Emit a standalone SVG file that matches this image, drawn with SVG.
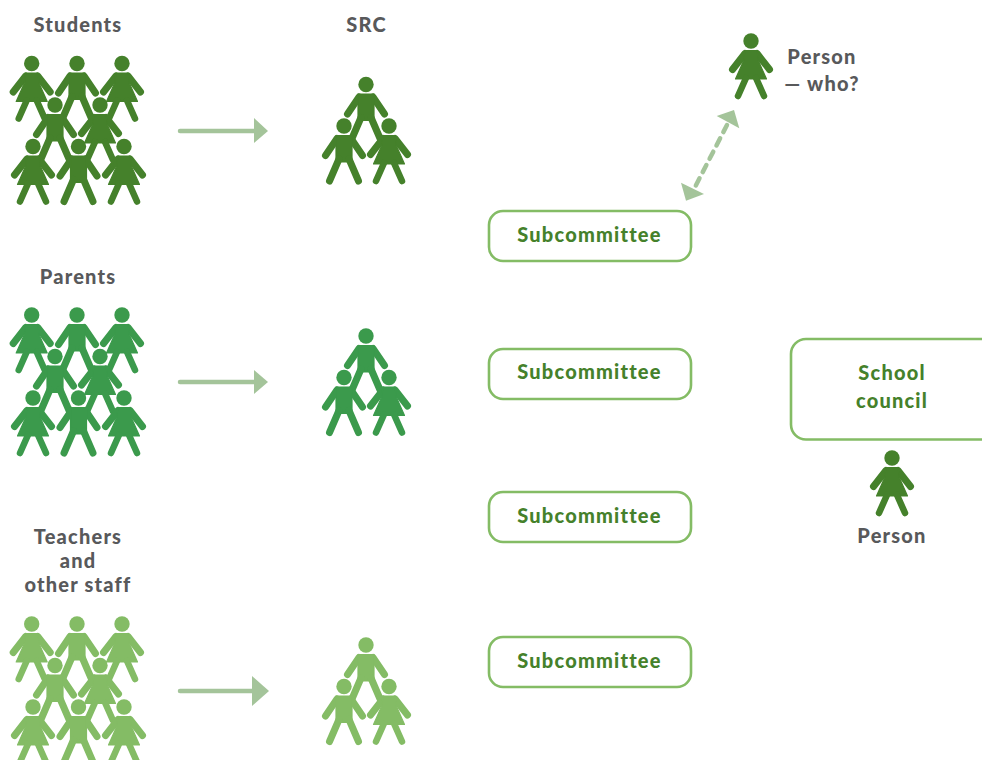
<svg xmlns="http://www.w3.org/2000/svg" xmlns:xlink="http://www.w3.org/1999/xlink" width="982" height="760" viewBox="0 0 982 760">
<style>
text{font-family:"Lato","Noto Sans",sans-serif;font-weight:900;font-size:20px;letter-spacing:1.2px;text-anchor:middle}
.g{fill:#58595b}.t{fill:#45812b}
.box{fill:#fff;stroke:#84bc65;stroke-width:2.6}
.dk{color:#45812b}.md{color:#3b9a4c}.lt{color:#84bc65}
.ar{stroke:#a4c49a;stroke-width:4.5;stroke-linecap:round;fill:none}
.ah{fill:#a4c49a}
</style>
<defs>
<g id="woman" fill="currentColor" stroke="currentColor" stroke-linecap="round" stroke-linejoin="round">
<circle cx="0" cy="0" r="7.7" stroke="none"/>
<path d="M-6 12.500L-18.500 28.500M6 12.500L18.500 28.500" stroke-width="7" fill="none"/>
<path d="M-6 9.500H6L7.500 20L15.500 38H-15.500L-7.500 20Z" stroke-width="1.200"/>
<path d="M-5 37L-13 55M5 37L13 55" stroke-width="6.500" fill="none"/>
</g>
<g id="man" fill="currentColor" stroke="currentColor" stroke-linecap="round" stroke-linejoin="round">
<circle cx="0" cy="0" r="7.7" stroke="none"/>
<path d="M-7 12.500L-18.500 29.500M7 12.500L18.500 29.500" stroke-width="7" fill="none"/>
<path d="M-8 9.500H8V36H-8Z" stroke-width="1.200"/>
<path d="M-5 33L-14.500 55M5 33L14.500 55" stroke-width="7" fill="none"/>
</g>
<g id="crowd">
<use xlink:href="#woman" href="#woman" x="31.7" y="63.5"/>
<use xlink:href="#man" href="#man" x="77" y="63.5"/>
<use xlink:href="#woman" href="#woman" x="122" y="63.5"/>
<use xlink:href="#man" href="#man" x="55" y="105"/>
<use xlink:href="#woman" href="#woman" x="100" y="105"/>
<use xlink:href="#woman" href="#woman" x="33" y="146.5"/>
<use xlink:href="#man" href="#man" x="78.5" y="146.5"/>
<use xlink:href="#woman" href="#woman" x="124" y="146.5"/>
</g>
<g id="trio">
<use xlink:href="#man" href="#man" x="366" y="84.5"/>
<use xlink:href="#man" href="#man" x="344" y="126"/>
<use xlink:href="#woman" href="#woman" x="389" y="126"/>
</g>
</defs>
<g id="connectors">
<path class="ar" d="M180 131H256"/><path class="ah" d="M254 118L268 131L254 143Z"/>
<path class="ar" d="M180 382H256"/><path class="ah" d="M254 370L268 382L254 394Z"/>
<path class="ar" d="M180 691H254"/><path class="ah" d="M252 676L269 691L252 706Z"/>
<path class="ar" d="M727 125L694 189" stroke-dasharray="8 7" stroke-linecap="butt"/>
<path class="ah" d="M716.7 116L734 110L739.3 128.3Z"/>
<path class="ah" d="M681 182.7L704 194L686 200.7Z"/>
</g>
<g id="students" class="dk"><text class="g" x="78" y="32">Students</text><use xlink:href="#crowd" href="#crowd"/></g>
<g id="src-students" class="dk"><text class="g" x="366.500" y="32">SRC</text><use xlink:href="#trio" href="#trio"/></g>
<g id="parents" class="md"><text class="g" x="78" y="284">Parents</text><use xlink:href="#crowd" href="#crowd" y="251.5"/></g>
<g id="src-parents" class="md"><use xlink:href="#trio" href="#trio" y="251.5"/></g>
<g id="teachers" class="lt"><text class="g" x="78" y="544">Teachers</text><text class="g" x="78" y="568">and</text><text class="g" x="78" y="592">other staff</text><use xlink:href="#crowd" href="#crowd" y="560.5"/></g>
<g id="src-teachers" class="lt"><use xlink:href="#trio" href="#trio" y="560.5"/></g>
<g id="sub1"><rect class="box" x="489" y="211" width="202" height="50" rx="14"/><text class="t" x="589.500" y="242">Subcommittee</text></g>
<g id="sub2"><rect class="box" x="489" y="349" width="202" height="50" rx="14"/><text class="t" x="589.500" y="379">Subcommittee</text></g>
<g id="sub3"><rect class="box" x="489" y="492" width="202" height="50" rx="14"/><text class="t" x="589.500" y="523">Subcommittee</text></g>
<g id="sub4"><rect class="box" x="489" y="637" width="202" height="50" rx="14"/><text class="t" x="589.500" y="668">Subcommittee</text></g>
<g id="council"><rect class="box" x="791" y="339" width="220" height="100.500" rx="15"/><text class="t" x="892" y="380">School</text><text class="t" x="892" y="408">council</text></g>
<g id="person-who" class="dk"><use xlink:href="#woman" href="#woman" x="751" y="41"/><text class="g" x="822" y="64">Person</text><text class="g" x="822" y="91">— who?</text></g>
<g id="person" class="dk"><use xlink:href="#woman" href="#woman" x="892" y="458"/><text class="g" x="892" y="543">Person</text></g>
</svg>
